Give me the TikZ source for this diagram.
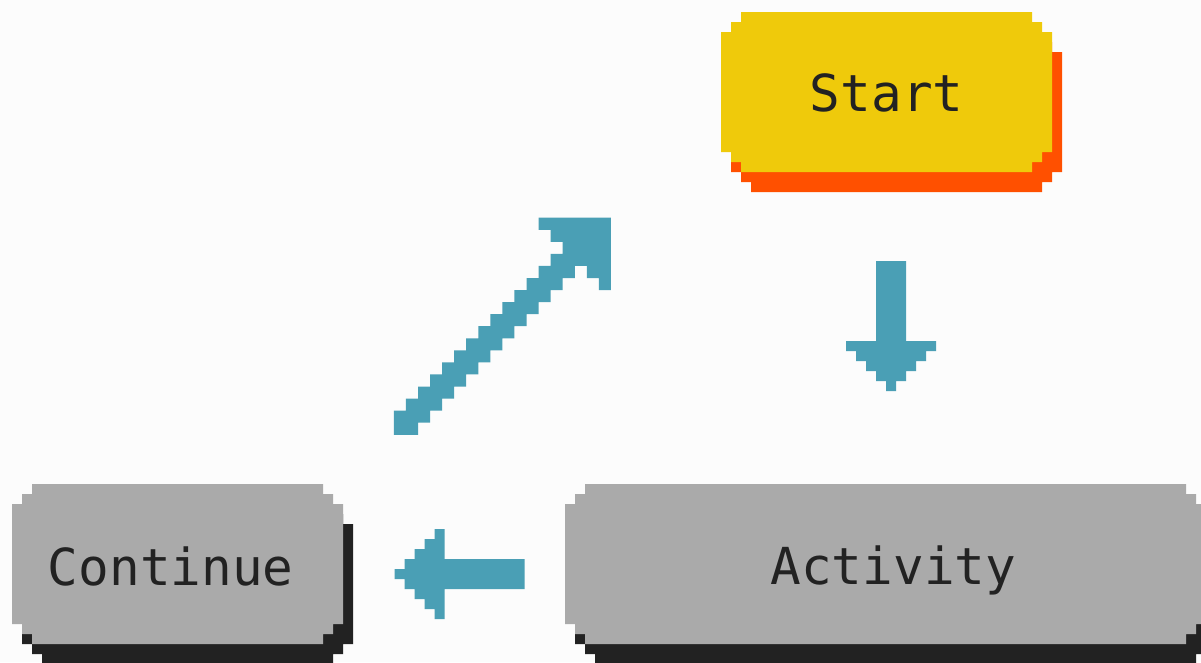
\documentclass[tikz,border=0pt]{standalone}
\usepackage{fontspec}
\setmonofont{DejaVu Sans Mono}
\definecolor{pixTeal}{HTML}{4A9FB5}
\definecolor{pixAmarillo}{HTML}{EFCA0B}
\definecolor{pixNaranja}{HTML}{FF5000}
\definecolor{pixGris}{HTML}{AAAAAA}
\definecolor{pixNegro}{HTML}{222222}
\definecolor{pixFondo}{HTML}{FCFCFC}
% caja con esquinas en escalera (x1,y1,x2,y2)
\newcommand{\pixcaja}[4]{(#1+20,#2) -- (#3-20,#2) -- (#3-20,#2+10) -- (#3-10,#2+10)
  -- (#3-10,#2+20) -- (#3,#2+20) -- (#3,#4-20) -- (#3-10,#4-20) -- (#3-10,#4-10)
  -- (#3-20,#4-10) -- (#3-20,#4) -- (#1+20,#4) -- (#1+20,#4-10) -- (#1+10,#4-10)
  -- (#1+10,#4-20) -- (#1,#4-20) -- (#1,#2+20) -- (#1+10,#2+20) -- (#1+10,#2+10)
  -- (#1+20,#2+10) -- cycle}

\begin{document}
\begin{tikzpicture}[x=1pt, y=-1pt,
      txt/.style={anchor=base, inner sep=0pt, text=pixNegro,
                  font=\ttfamily\fontsize{51}{60}\selectfont},
      flecha/.pic={\fill[pixTeal] (0,-1.5) -- (8,-1.5) -- (8,-4.5) -- (9,-4.5) -- (9,-3.5)
        -- (10,-3.5) -- (10,-2.5) -- (11,-2.5) -- (11,-1.5) -- (12,-1.5) -- (12,-0.5)
        -- (13,-0.5) -- (13,0.5) -- (12,0.5) -- (12,1.5) -- (11,1.5) -- (11,2.5)
        -- (10,2.5) -- (10,3.5) -- (9,3.5) -- (9,4.5) -- (8,4.5) -- (8,1.5) -- (0,1.5) -- cycle;}]
    \useasboundingbox (0,0) rectangle (1201,662);
    \fill[pixFondo] (0,0) rectangle (1201,662);
    % cajas y sombras
    \fill[pixNaranja]  \pixcaja{731}{32}{1062}{192};
    \fill[pixAmarillo] \pixcaja{721}{12}{1052}{172};
    \fill[pixNegro]    \pixcaja{22}{504}{353}{664};
    \fill[pixGris]     \pixcaja{12}{484}{343}{644};
    \fill[pixNegro]    \pixcaja{575}{504}{1216}{664};
    \fill[pixGris]     \pixcaja{565}{484}{1206}{644};
    \node[txt] (start) at (886.7,111.7) {Start};
    \node[txt] (cont)  at (170.8,585)   {Continue};
    \node[txt] (act)   at (893.3,584.3) {Activity};
    % flechas
    \coordinate (fAbajo) at (891,261);
    \coordinate (fIzq)   at (524.5,574);
    \coordinate (fDiag)  at (538.6,217.7);
    \pic[rotate=-90, scale=10] at (fAbajo) {flecha};
    \pic[rotate=180, scale=10] at (fIzq) {flecha};
    \begin{scope}[shift={(fDiag)}, x=12.06pt, y=-12.06pt]
      \fill[pixTeal] (0,0) -- (6,0) -- (6,6) -- (5,6) -- (5,5) -- (4,5) -- (4,4) -- (3,4)
        -- (3,5) -- (2,5)
        \foreach \k in {5,...,16} { -- ({7-\k},{\k+1}) -- ({6-\k},{\k+1}) }
        -- (-10,18) -- (-12,18) -- (-12,16)
        \foreach \k in {15,14,...,3} { -- ({4-\k},{\k+1}) -- ({4-\k},\k) }
        -- (2,3) -- (2,2) -- (1,2) -- (1,1) -- (0,1) -- cycle;
    \end{scope}
\end{tikzpicture}
\end{document}
